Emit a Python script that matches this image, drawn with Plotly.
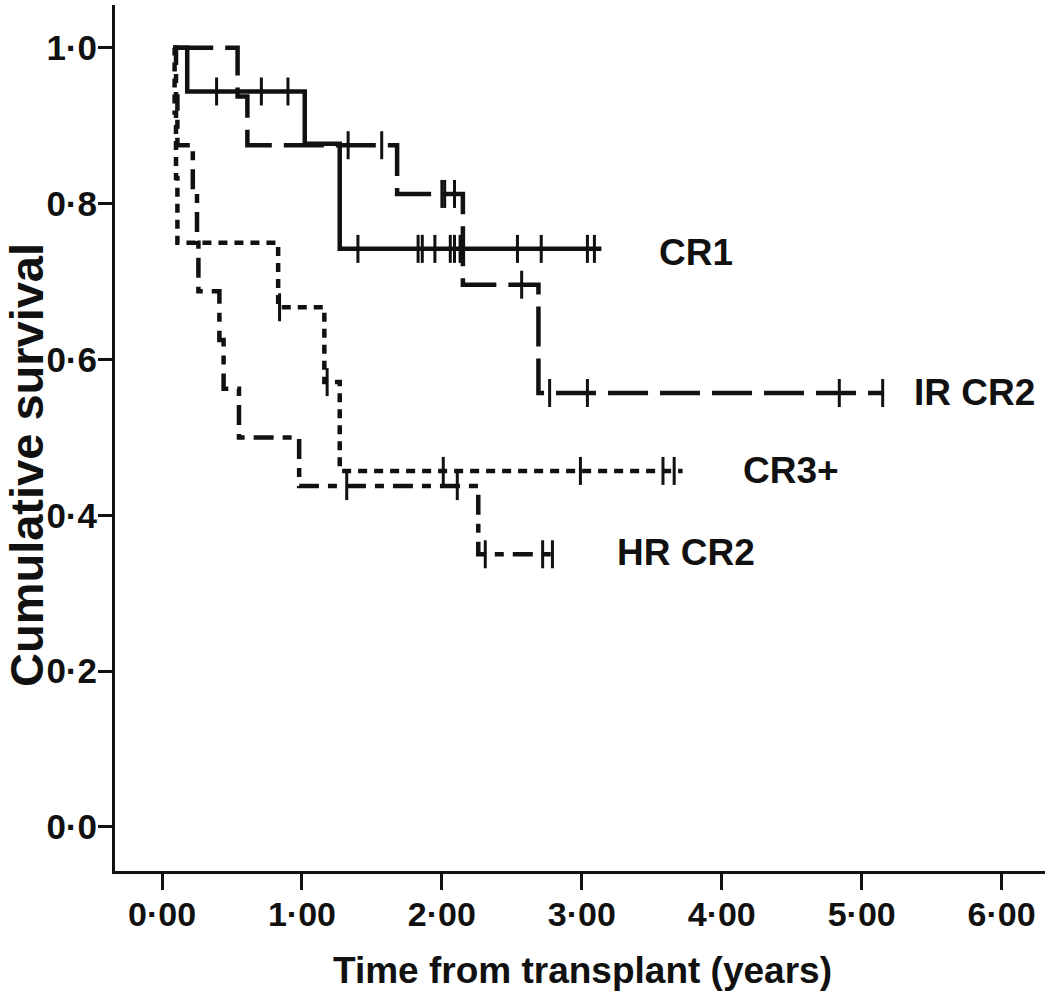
import plotly.graph_objects as go

# ---- data (years, cumulative survival) ----
cr1_times = [0.09, 0.18, 1.02, 1.27, 3.14]
cr1_surv = [1.0, 0.944, 0.877, 0.742, 0.742]
cr1_cens = [0.39, 0.71, 0.90, 1.40, 1.83, 1.86, 1.95, 2.06, 2.09, 2.13, 2.54, 2.71, 3.04, 3.09]

ir_times = [0.08, 0.54, 0.61, 1.68, 2.15, 2.69, 5.16]
ir_surv = [1.0, 0.9375, 0.875, 0.8125, 0.696, 0.557, 0.557]
ir_cens = [1.33, 1.57, 2.00, 2.02, 2.09, 2.57, 2.77, 3.04, 4.84, 5.15]

cr3_times = [0.08, 0.09, 0.10, 0.11, 0.83, 1.16, 1.27, 3.72]
cr3_surv = [1.0, 0.917, 0.833, 0.75, 0.667, 0.571, 0.457, 0.457]
cr3_cens = [0.84, 1.18, 2.01, 2.99, 3.58, 3.66]

hr_times = [0.08, 0.10, 0.11, 0.22, 0.25, 0.26, 0.41, 0.44, 0.55, 0.98, 2.26, 2.82]
hr_surv = [1.0, 0.9375, 0.875, 0.8125, 0.75, 0.6875, 0.625, 0.5625, 0.5, 0.4375, 0.35, 0.35]
hr_cens = [1.32, 2.11, 2.31, 2.72, 2.79]

x_ticks = [0, 1, 2, 3, 4, 5, 6]
x_ticktext = ["0·00", "1·00", "2·00", "3·00", "4·00", "5·00", "6·00"]
y_ticks = [0.0, 0.2, 0.4, 0.6, 0.8, 1.0]
y_ticktext = ["0·0", "0·2", "0·4", "0·6", "0·8", "1·0"]

labels = ["CR1", "IR CR2", "CR3+", "HR CR2"]
label_x = [3.54, 5.36, 4.14, 3.24]
label_y = [0.737, 0.558, 0.458, 0.352]

FONT = "Liberation Sans, Arial, Helvetica, sans-serif"
BLACK = "#111111"


def level_at(times, surv, t):
    v = surv[0]
    for tt, s in zip(times, surv):
        if tt <= t:
            v = s
    return v


fig = go.Figure()

groups = [
    (cr1_times, cr1_surv, cr1_cens, "solid", 4.5),
    (ir_times, ir_surv, ir_cens, "40px,12px", 4.5),
    (cr3_times, cr3_surv, cr3_cens, "9px,7px", 4.5),
    (hr_times, hr_surv, hr_cens, "20px,9px,9px,9px", 4.5),
]

for times, surv, cens, dash, w in groups:
    fig.add_trace(go.Scatter(
        x=times, y=surv, mode="lines", line=dict(color=BLACK, width=w, dash=dash, shape="hv"),
        showlegend=False, hoverinfo="skip"))
    fig.add_trace(go.Scatter(
        x=cens, y=[level_at(times, surv, c) for c in cens], mode="markers",
        marker=dict(symbol="line-ns-open", size=20, color=BLACK, line=dict(color=BLACK, width=3)),
        showlegend=False, hoverinfo="skip"))

for txt, lx, ly in zip(labels, label_x, label_y):
    fig.add_annotation(x=lx, y=ly, text=txt, showarrow=False, xanchor="left", yanchor="middle",
                       font=dict(family=FONT, size=37, color=BLACK, weight="bold"))

# axis titles as annotations for exact placement
fig.add_annotation(xref="paper", yref="paper", x=(582 - 115) / 930, y=(871 - 970) / 866,
                   text="Time from transplant (years)", showarrow=False,
                   xanchor="center", yanchor="middle",
                   font=dict(family=FONT, size=37, color=BLACK, weight="bold"))
fig.add_annotation(xref="paper", yref="paper", x=(26 - 115) / 930, y=(871 - 465) / 866,
                   text="Cumulative survival", showarrow=False, textangle=-90,
                   xanchor="center", yanchor="middle",
                   font=dict(family=FONT, size=47, color=BLACK, weight="bold"))

fig.update_layout(
    width=1050, height=998,
    margin=dict(l=115, r=5, t=5, b=127, autoexpand=False),
    paper_bgcolor="white", plot_bgcolor="white",
    font=dict(family=FONT, color=BLACK),
)
fig.update_xaxes(
    range=[-0.336, 6.31], tickvals=x_ticks, ticktext=x_ticktext, automargin=False,
    showgrid=False, zeroline=False, showline=True, linecolor=BLACK, linewidth=3,
    ticks="outside", ticklen=16, tickwidth=3, tickcolor=BLACK, ticklabelstandoff=-5,
    tickfont=dict(family=FONT, size=34, color=BLACK, weight="bold"),
)
fig.update_yaxes(
    range=[-0.0565, 1.055], tickvals=y_ticks, ticktext=y_ticktext, automargin=False,
    showgrid=False, zeroline=False, showline=True, linecolor=BLACK, linewidth=3,
    ticks="outside", ticklen=14, tickwidth=3, tickcolor=BLACK, ticklabelstandoff=-6,
    tickfont=dict(family=FONT, size=35, color=BLACK, weight="bold"),
)

fig.write_html("out.html", config={"displayModeBar": False},
               post_script="document.body.style.margin='0';")
